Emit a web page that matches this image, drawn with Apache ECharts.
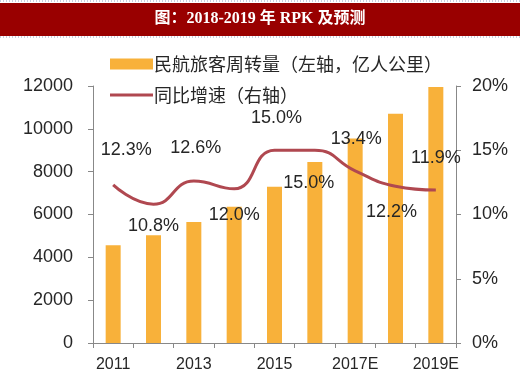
<!DOCTYPE html>
<html>
<head>
<meta charset="utf-8">
<script src="https://cdn.jsdelivr.net/npm/echarts@6/dist/echarts.min.js"></script>
<style>html,body{margin:0;padding:0;background:#fff;}#c{width:520px;height:380px;}</style>
</head>
<body>
<div id="c"></div>
<script>
var categories = ['2011','2012','2013','2014','2015','2016','2017E','2018E','2019E'];
var rpkValues = [4560, 5030, 5650, 6360, 7300, 8450, 9550, 10700, 11950];
var growthValues = [12.3, 10.8, 12.6, 12.0, 15.0, 15.0, 13.4, 12.2, 11.9];
var leftTicks = {min: 0, max: 12000, interval: 2000};
var rightTicks = {min: 0, max: 20, interval: 5};
var titleText = '图：2018-2019 年 RPK 及预测';
var barName = '民航旅客周转量（左轴，亿人公里）';
var lineName = '同比增速（右轴）';

// label placement (style only)
var labelPos = ['top','bottom','top','bottom','top','bottom','top','bottom','top'];
var labelDist = [26, 13, 24, 17, 23, 24, 23, 17, 23];
var labelDx = [13, 0, 2, 0, 2, -6, 1, -4, 0];

var labelData = growthValues.map(function (v, i) {
  return {value: v, label: {position: labelPos[i], distance: labelDist[i], offset: [labelDx[i], 0]}};
});

var numFont = '"Liberation Sans", Arial, sans-serif';
var cjkFont = '"Noto Sans CJK SC", "Liberation Sans", sans-serif';

var chart = echarts.init(document.getElementById('c'), null, {renderer: 'canvas'});
chart.setOption({
  backgroundColor: '#ffffff',
  animation: false,
  graphic: [
    {type: 'rect', shape: {x: 0, y: 3, width: 520, height: 33}, style: {fill: '#990000'}, silent: true},
    {type: 'line', shape: {x1: 0, y1: 1, x2: 520, y2: 1}, style: {stroke: '#8fa0c0', lineWidth: 1, lineDash: [1, 2]}, silent: true},
    {type: 'line', shape: {x1: 0, y1: 37, x2: 520, y2: 37}, style: {stroke: '#8fa0c0', lineWidth: 1, lineDash: [1, 2]}, silent: true},
    {type: 'text', left: 'center', top: 11, style: {text: titleText, fill: '#ffffff', font: 'bold 16px "Liberation Serif", "Noto Sans CJK SC", serif'}, silent: true}
  ],
  legend: {
    orient: 'vertical',
    left: 105,
    top: 50,
    itemGap: 13,
    itemWidth: 43,
    itemHeight: 11,
    textStyle: {fontSize: 18, color: '#262626', fontFamily: cjkFont, padding: [0, 0, 0, -4]},
    data: [
      {name: barName, icon: 'rect'},
      {name: lineName, icon: 'path://M0,0H43V3H0Z'}
    ]
  },
  grid: {left: 93, right: 64, top: 86, bottom: 37, containLabel: false},
  xAxis: {
    type: 'category',
    data: categories,
    boundaryGap: true,
    axisLine: {show: true, lineStyle: {color: '#888', width: 1}},
    axisTick: {show: true, length: 5, inside: false, alignWithLabel: false, interval: 0, lineStyle: {color: '#888'}},
    axisLabel: {interval: 1, margin: 14, fontSize: 16, color: '#262626', fontFamily: numFont},
    splitLine: {show: false}
  },
  yAxis: [
    {
      type: 'value', position: 'left',
      min: leftTicks.min, max: leftTicks.max, interval: leftTicks.interval,
      axisLine: {show: true, lineStyle: {color: '#888', width: 1}},
      axisTick: {show: true, length: 5, lineStyle: {color: '#888'}},
      axisLabel: {margin: 20, fontSize: 18, color: '#262626', fontFamily: numFont, formatter: function (v) { return String(v); }},
      splitLine: {show: false}
    },
    {
      type: 'value', position: 'right',
      min: rightTicks.min, max: rightTicks.max, interval: rightTicks.interval,
      axisLine: {show: true, lineStyle: {color: '#888', width: 1}},
      axisTick: {show: true, length: 5, lineStyle: {color: '#888'}},
      axisLabel: {margin: 16, fontSize: 18, color: '#262626', fontFamily: numFont, formatter: '{value}%'},
      splitLine: {show: false}
    }
  ],
  series: [
    {
      name: barName,
      type: 'bar',
      yAxisIndex: 0,
      data: rpkValues,
      barWidth: 15,
      itemStyle: {color: '#F8B13A'},
      z: 2
    },
    {
      name: lineName,
      type: 'line',
      yAxisIndex: 1,
      data: growthValues,
      smooth: true,
      symbol: 'none',
      lineStyle: {color: '#B04850', width: 3},
      itemStyle: {color: '#B04850'},
      z: 5
    },
    {
      name: 'labels',
      type: 'scatter',
      yAxisIndex: 1,
      data: labelData,
      symbolSize: 0,
      itemStyle: {color: '#262626', opacity: 1},
      label: {
        show: true,
        fontSize: 18,
        color: '#262626',
        opacity: 1,
        textBorderWidth: 0,
        fontFamily: numFont,
        formatter: function (p) { return p.value.toFixed(1) + '%'; }
      },
      emphasis: {disabled: true},
      silent: true,
      z: 6
    }
  ]
});
</script>
</body>
</html>
